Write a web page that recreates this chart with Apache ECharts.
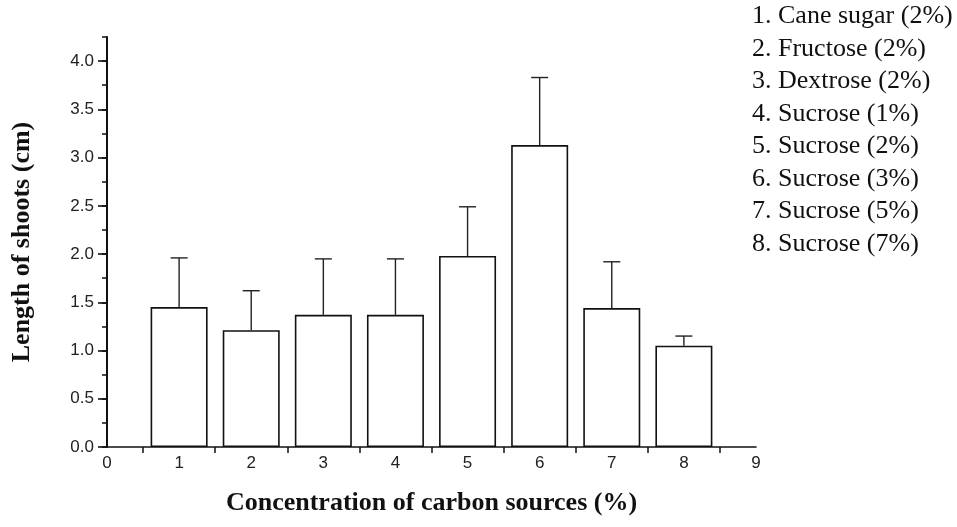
<!DOCTYPE html>
<html>
<head>
<meta charset="utf-8">
<script src="https://cdn.jsdelivr.net/npm/echarts@6/dist/echarts.min.js"></script>
<style>
html,body{margin:0;padding:0;background:#fff;}
#main{width:957px;height:527px;}
</style>
</head>
<body>
<div id="main"></div>
<script>
// treatments 1..8
var xPos = [1, 2, 3, 4, 5, 6, 7, 8];
// mean length of shoots (cm)
var meanLen = [1.45, 1.21, 1.37, 1.37, 1.98, 3.13, 1.44, 1.05];
// upper end of error bar (cm)
var errTop = [1.96, 1.62, 1.95, 1.95, 2.49, 3.83, 1.92, 1.15];
var yLabels = [0, 0.5, 1.0, 1.5, 2.0, 2.5, 3.0, 3.5, 4.0];
var legendItems = [
  '1. Cane sugar (2%)',
  '2. Fructose (2%)',
  '3. Dextrose (2%)',
  '4. Sucrose (1%)',
  '5. Sucrose (2%)',
  '6. Sucrose (3%)',
  '7. Sucrose (5%)',
  '8. Sucrose (7%)'
];

var barData = xPos.map(function (x, i) { return [x, meanLen[i]]; });
var errData = xPos.map(function (x, i) { return [x, meanLen[i], errTop[i]]; });

var myChart = echarts.init(document.getElementById('main'));
var option = {
  animation: false,
  backgroundColor: '#fff',
  title: {
    text: legendItems.join('\n'),
    left: 752,
    top: 0,
    padding: 0,
    textStyle: {
      fontFamily: 'Liberation Serif',
      fontWeight: 'normal',
      fontSize: 26,
      lineHeight: 32.5,
      color: '#111'
    }
  },
  grid: { left: 107, right: 201, top: 37, bottom: 80 },
  xAxis: {
    type: 'value',
    min: 0,
    max: 9,
    interval: 1,
    name: 'Concentration of carbon sources (%)',
    nameLocation: 'middle',
    nameGap: 43,
    nameTextStyle: { fontFamily: 'Liberation Serif', fontWeight: 'bold', fontSize: 26, color: '#111' },
    axisLine: { lineStyle: { color: '#111', width: 1.6 } },
    axisTick: { show: false },
    minorTick: { show: true, splitNumber: 2, length: 6, lineStyle: { color: '#111', width: 1.5 } },
    splitLine: { show: false },
    axisLabel: { fontFamily: 'Liberation Sans', fontSize: 17, color: '#222', margin: 8 }
  },
  yAxis: [
    {
      type: 'value',
      min: 0,
      max: 4.25,
      interval: 0.25,
      name: 'Length of shoots (cm)',
      nameLocation: 'middle',
      nameGap: 72,
      nameTextStyle: { fontFamily: 'Liberation Serif', fontWeight: 'bold', fontSize: 26, color: '#111' },
      axisLine: { show: true, lineStyle: { color: '#111', width: 2 } },
      axisTick: { show: true, customValues: yLabels, length: 9, lineStyle: { color: '#111', width: 1.6 } },
      splitLine: { show: false },
      axisLabel: {
        customValues: yLabels,
        fontFamily: 'Liberation Sans', fontSize: 17, color: '#222', margin: 13,
        formatter: function (v) { return v.toFixed(1); }
      }
    },
    {
      type: 'value',
      min: 0,
      max: 4.25,
      interval: 0.25,
      position: 'left',
      axisLine: { show: false },
      axisTick: { show: true, length: 5, lineStyle: { color: '#111', width: 1.5 } },
      axisLabel: { show: false },
      splitLine: { show: false }
    }
  ],
  series: [
    {
      type: 'bar',
      data: barData,
      barWidth: 57,
      itemStyle: { color: '#fff', borderColor: '#111', borderWidth: 1.6 }
    },
    {
      type: 'custom',
      data: errData,
      z: 3,
      renderItem: function (params, api) {
        var base = api.coord([api.value(0), api.value(1)]);
        var top = api.coord([api.value(0), api.value(2)]);
        var half = 8.5;
        var st = { stroke: '#222', lineWidth: 1.4 };
        return {
          type: 'group',
          children: [
            { type: 'line', shape: { x1: base[0], y1: base[1], x2: top[0], y2: top[1] }, style: st },
            { type: 'line', shape: { x1: top[0] - half, y1: top[1], x2: top[0] + half, y2: top[1] }, style: st }
          ]
        };
      }
    }
  ]
};
myChart.setOption(option);
</script>
</body>
</html>
